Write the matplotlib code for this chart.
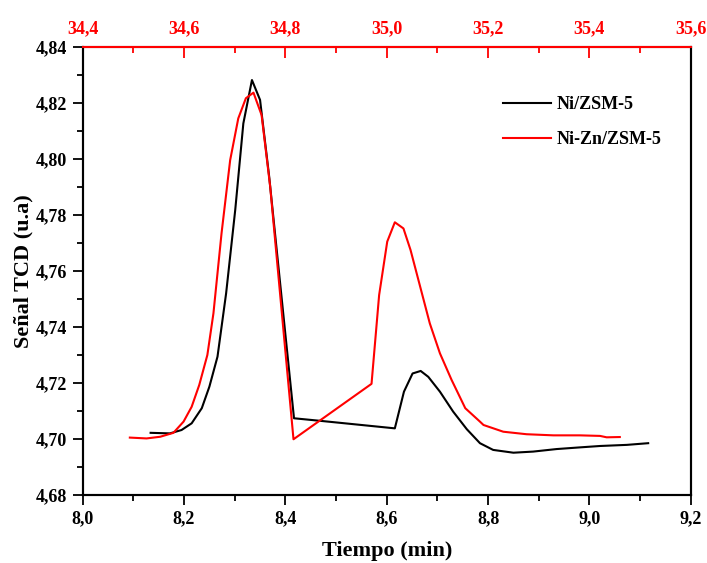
import matplotlib.pyplot as plt
from matplotlib.ticker import MultipleLocator, FuncFormatter

# Ni/ZSM-5 TCD signal, bottom time axis (min)
t_ni = [8.134, 8.172, 8.195, 8.215, 8.235, 8.250, 8.266, 8.283, 8.301, 8.317,
        8.334, 8.350, 8.368, 8.417, 8.468, 8.616, 8.634, 8.651, 8.667,
        8.682, 8.705, 8.731, 8.758, 8.784, 8.810, 8.850, 8.889, 8.935, 8.981,
        9.021, 9.074, 9.116]
s_ni = [4.7021, 4.7019, 4.7031, 4.7055, 4.7109, 4.7186, 4.7293, 4.7519, 4.7817, 4.8126,
        4.8281, 4.8210, 4.7936, 4.7073, 4.7064, 4.7037, 4.7168, 4.7233, 4.7242,
        4.7221, 4.7168, 4.7097, 4.7034, 4.6984, 4.6960, 4.6950, 4.6954, 4.6963, 4.6969,
        4.6974, 4.6978, 4.6984]

# Ni-Zn/ZSM-5 TCD signal, top time axis
t_nizn = [34.493, 34.526, 34.553, 34.579, 34.599, 34.615, 34.630, 34.646, 34.658, 34.674,
          34.691, 34.707, 34.722, 34.737, 34.753, 34.770, 34.816, 34.970, 34.985, 35.001,
          35.016, 35.033, 35.047, 35.066, 35.085, 35.105, 35.128, 35.155, 35.184, 35.191,
          35.230, 35.276, 35.329, 35.381, 35.421, 35.434, 35.460]
s_nizn = [4.7004, 4.7001, 4.7007, 4.7021, 4.7061, 4.7114, 4.7192, 4.7299, 4.7448, 4.7734,
          4.7995, 4.8144, 4.8216, 4.8236, 4.8156, 4.7900, 4.6998, 4.7196, 4.7513, 4.7704,
          4.7773, 4.7751, 4.7674, 4.7543, 4.7412, 4.7305, 4.7210, 4.7109, 4.7061, 4.7049,
          4.7025, 4.7016, 4.7012, 4.7012, 4.7010, 4.7005, 4.7006]

FONT = 'Liberation Serif'
comma = FuncFormatter(lambda v, pos: f'{v:.1f}'.replace('.', ','))
comma2 = FuncFormatter(lambda v, pos: f'{v:.2f}'.replace('.', ','))

fig = plt.figure(figsize=(7.07, 5.63), dpi=100)
ax = fig.add_axes([0.117, 0.1213, 0.86, 0.7957])
ax2 = ax.twiny()

l1, = ax.plot(t_ni, s_ni, color='black', lw=1.5, label='Ni/ZSM-5')
l2, = ax2.plot(t_nizn, s_nizn, color='red', lw=1.5, label='Ni-Zn/ZSM-5')

ax.set_xlim(8.0, 9.2)
ax.set_ylim(4.68, 4.84)
ax2.set_xlim(34.4, 35.6)

ax.xaxis.set_major_locator(MultipleLocator(0.2))
ax.xaxis.set_minor_locator(MultipleLocator(0.1))
ax.yaxis.set_major_locator(MultipleLocator(0.02))
ax.yaxis.set_minor_locator(MultipleLocator(0.01))
ax2.xaxis.set_major_locator(MultipleLocator(0.2))
ax2.xaxis.set_minor_locator(MultipleLocator(0.1))
ax.xaxis.set_major_formatter(comma)
ax.yaxis.set_major_formatter(comma2)
ax2.xaxis.set_major_formatter(comma)

ax.tick_params(which='major', direction='out', length=7, width=1.3, pad=4)
ax.tick_params(which='minor', direction='out', length=4, width=1.3)
ax.tick_params(top=False, right=False, which='both')
ax2.tick_params(which='major', direction='in', length=8, width=1.3, color='red',
                labelcolor='red', pad=7)
ax2.tick_params(which='minor', direction='in', length=4, width=1.3, color='red')

for a in (ax, ax2):
    for sp in a.spines.values():
        sp.set_linewidth(1.5)
ax2.spines['top'].set_color('red')

for lab in ax.get_xticklabels() + ax.get_yticklabels() + ax2.get_xticklabels():
    lab.set_fontfamily(FONT)
    lab.set_fontweight('bold')
    lab.set_fontsize(13)

ax.set_xlabel('Tiempo (min)', fontfamily=FONT, fontweight='bold', fontsize=16, labelpad=10)
ax.set_ylabel('Señal TCD (u.a)', fontfamily=FONT, fontweight='bold', fontsize=16, labelpad=2)

ax2.legend([l1, l2], ['Ni/ZSM-5', 'Ni-Zn/ZSM-5'], loc='upper left',
           bbox_to_anchor=(0.691, 0.89), frameon=False, borderpad=0, borderaxespad=0,
           handlelength=2.67, handletextpad=0.33, labelspacing=1.0,
           prop={'family': FONT, 'weight': 'bold', 'size': 13})

fig.savefig('out.png', dpi=100)
